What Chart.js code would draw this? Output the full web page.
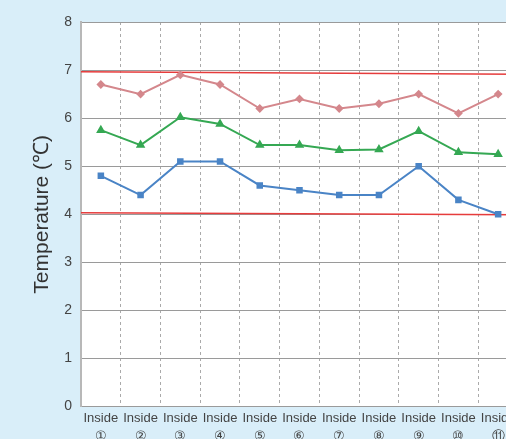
<!DOCTYPE html>
<html>
<head>
<meta charset="utf-8">
<script src="https://cdn.jsdelivr.net/npm/chart.js@4/dist/chart.umd.min.js"></script>
<style>
  html, body { margin: 0; padding: 0; background: #d9eef9; overflow: hidden; }
  #wrap { width: 506px; height: 439px; overflow: hidden; }
  #box { width: 524px; height: 449px; }
</style>
</head>
<body>
<div id="wrap"><div id="box"><canvas id="myChart"></canvas></div></div>
<script>
const labels = [
    ['Inside', '①'], ['Inside', '②'], ['Inside', '③'], ['Inside', '④'],
    ['Inside', '⑤'], ['Inside', '⑥'], ['Inside', '⑦'], ['Inside', '⑧'],
    ['Inside', '⑨'], ['Inside', '⑩'], ['Inside', '⑪']
];
const pinkValues  = [6.7, 6.5, 6.9, 6.7, 6.2, 6.4, 6.2, 6.3, 6.5, 6.1, 6.5];
const greenValues = [5.75, 5.44, 6.02, 5.88, 5.44, 5.44, 5.33, 5.35, 5.73, 5.29, 5.25];
const blueValues  = [4.8, 4.4, 5.1, 5.1, 4.6, 4.5, 4.4, 4.4, 5.0, 4.3, 4.0];
const upperLimit = [6.965, 6.915];
const lowerLimit = [4.03, 3.99];
const yTicks = [0, 1, 2, 3, 4, 5, 6, 7, 8];

const ctx = document.getElementById('myChart').getContext('2d');

// white plot area
const plotBg = {
    id: 'plotBg',
    beforeDraw(chart) {
        const a = chart.chartArea;
        chart.ctx.save();
        chart.ctx.fillStyle = '#ffffff';
        chart.ctx.fillRect(a.left, a.top, a.right - a.left, a.bottom - a.top);
        chart.ctx.restore();
    }
};

const n = labels.length;

const myChart = new Chart(ctx, {
    type: 'line',
    data: {
        labels: labels,
        datasets: [
            {
                data: pinkValues,
                borderColor: '#d4878c',
                backgroundColor: '#d4878c',
                borderWidth: 2,
                pointStyle: 'rectRot',
                pointRadius: 3,
                tension: 0
            },
            {
                data: greenValues,
                borderColor: '#35a853',
                backgroundColor: '#35a853',
                borderWidth: 2,
                pointStyle: 'triangle',
                pointRadius: 3.5,
                tension: 0
            },
            {
                data: blueValues,
                borderColor: '#4a84c6',
                backgroundColor: '#4a84c6',
                borderWidth: 2,
                pointStyle: 'rect',
                pointRadius: 3.2,
                tension: 0
            },
            {
                xAxisID: 'x2',
                data: [{ x: 0, y: upperLimit[0] }, { x: n, y: upperLimit[1] }],
                borderColor: '#e63c3c',
                borderWidth: 1.5,
                pointRadius: 0
            },
            {
                xAxisID: 'x2',
                data: [{ x: 0, y: lowerLimit[0] }, { x: n, y: lowerLimit[1] }],
                borderColor: '#e63c3c',
                borderWidth: 1.5,
                pointRadius: 0
            }
        ]
    },
    options: {
        responsive: true,
        maintainAspectRatio: false,
        animation: false,
        layout: { padding: { top: 22, left: 30, right: 0, bottom: 0 } },
        plugins: {
            legend: { display: false },
            tooltip: { enabled: false }
        },
        scales: {
            x: {
                offset: true,
                grid: {
                    offset: true,
                    color: '#aaaaaa',
                    lineWidth: 1,
                    drawTicks: false
                },
                border: { display: false, dash: [3, 3] },
                ticks: {
                    color: '#444',
                    padding: 3,
                    maxRotation: 0,
                    autoSkip: false,
                    font: { family: 'Liberation Sans Narrow, Liberation Sans, sans-serif', size: 13, lineHeight: 1.4 }
                }
            },
            x2: {
                type: 'linear',
                display: false,
                min: 0,
                max: n
            },
            y: {
                min: 0,
                max: 8,
                afterBuildTicks(axis) {
                    axis.ticks = yTicks.map(v => ({ value: v }));
                },
                grid: { color: '#9a9a9a', lineWidth: 1, drawTicks: false },
                border: { color: '#b8b8b8', width: 2 },
                ticks: {
                    color: '#444',
                    padding: 9,
                    font: { family: 'Liberation Sans, sans-serif', size: 14 }
                },
                title: {
                    display: true,
                    text: 'Temperature (℃)',
                    color: '#333',
                    padding: { top: 0, bottom: 0 },
                    font: { family: 'Liberation Sans, sans-serif', size: 21 }
                }
            }
        }
    },
    plugins: [plotBg]
});
</script>
</body>
</html>
